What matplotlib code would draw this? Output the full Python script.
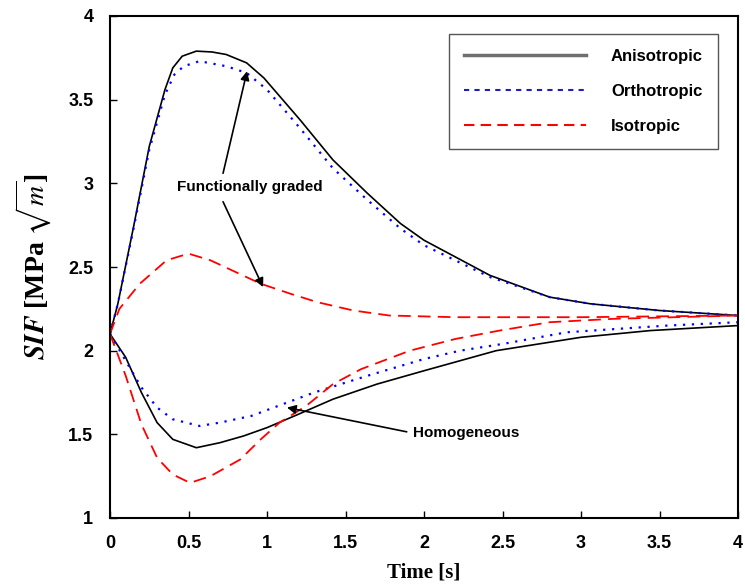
import numpy as np
import matplotlib
matplotlib.use("Agg")
from matplotlib import pyplot as plt
from matplotlib.lines import Line2D

# --- data ---
t_ani_fg = [0, 0.05, 0.15, 0.25, 0.35, 0.4, 0.46, 0.55, 0.65, 0.74, 0.87, 0.98, 1.21, 1.42, 1.64, 1.85, 2.0, 2.42, 2.8, 3.06, 3.5, 4.0]
k_ani_fg = [2.1, 2.28, 2.74, 3.22, 3.56, 3.69, 3.76, 3.79, 3.785, 3.77, 3.72, 3.63, 3.38, 3.14, 2.94, 2.76, 2.66, 2.45, 2.32, 2.28, 2.24, 2.21]

t_ort_fg = [0, 0.05, 0.15, 0.25, 0.35, 0.41, 0.47, 0.57, 0.74, 0.87, 1.0, 1.21, 1.42, 1.64, 1.85, 2.0, 2.42, 2.8, 3.06, 3.5, 4.0]
k_ort_fg = [2.1, 2.28, 2.73, 3.2, 3.53, 3.65, 3.70, 3.73, 3.70, 3.66, 3.56, 3.33, 3.09, 2.90, 2.73, 2.63, 2.44, 2.32, 2.28, 2.24, 2.21]

t_iso_fg = [0, 0.06, 0.19, 0.36, 0.5, 0.64, 0.8, 0.96, 1.15, 1.32, 1.55, 1.78, 2.2, 3.0, 4.0]
k_iso_fg = [2.1, 2.25, 2.40, 2.54, 2.58, 2.54, 2.47, 2.40, 2.34, 2.29, 2.24, 2.21, 2.2, 2.2, 2.21]

t_ani_h = [0, 0.1, 0.2, 0.3, 0.4, 0.55, 0.7, 0.85, 1.0, 1.2, 1.42, 1.7, 2.0, 2.46, 3.0, 3.44, 4.0]
k_ani_h = [2.1, 1.96, 1.75, 1.57, 1.47, 1.42, 1.45, 1.49, 1.54, 1.62, 1.71, 1.80, 1.88, 2.0, 2.08, 2.12, 2.15]

t_ort_h = [0, 0.1, 0.2, 0.3, 0.4, 0.57, 0.7, 0.9, 1.1, 1.3, 1.64, 2.0, 2.23, 2.5, 2.91, 3.55, 4.0]
k_ort_h = [2.1, 1.94, 1.78, 1.66, 1.59, 1.55, 1.57, 1.61, 1.68, 1.75, 1.85, 1.95, 2.0, 2.04, 2.11, 2.15, 2.17]

t_iso_h = [0, 0.1, 0.2, 0.3, 0.4, 0.51, 0.64, 0.83, 0.96, 1.08, 1.25, 1.42, 1.6, 1.91, 2.2, 2.48, 2.8, 3.2, 4.0]
k_iso_h = [2.1, 1.85, 1.56, 1.36, 1.26, 1.21, 1.25, 1.35, 1.47, 1.57, 1.67, 1.80, 1.89, 2.0, 2.07, 2.12, 2.17, 2.19, 2.21]

xticks = [0, 0.5, 1, 1.5, 2, 2.5, 3, 3.5, 4]
xticklabels = ["0", "0.5", "1", "1.5", "2", "2.5", "3", "3.5", "4"]
yticks = [1, 1.5, 2, 2.5, 3, 3.5, 4]
yticklabels = ["1", "1.5", "2", "2.5", "3", "3.5", "4"]
legend_labels = ["Anisotropic", "Orthotropic", "Isotropic"]

plt.rcParams["mathtext.fontset"] = "stix"

fig = plt.figure(figsize=[7.45, 5.85], dpi=100)
ax = fig.add_axes([110 / 745, 1 - 518 / 585, 628 / 745, 502 / 585])

ani_style = dict(color="black", lw=1.2, ls="-")
ort_style = dict(color="blue", lw=1.6, ls=(0, (1, 3)))
iso_style = dict(color="red", lw=1.3, ls=(0, (7, 4)))

ax.plot(t_ani_fg, k_ani_fg, **ani_style)
ax.plot(t_ort_fg, k_ort_fg, **ort_style)
ax.plot(t_iso_fg, k_iso_fg, **iso_style)
ax.plot(t_ani_h, k_ani_h, **ani_style)
ax.plot(t_ort_h, k_ort_h, **ort_style)
ax.plot(t_iso_h, k_iso_h, **iso_style)

ax.set_xlim(0, 4)
ax.set_ylim(1, 4)
ax.set_xticks(xticks)
ax.set_xticklabels(xticklabels)
ax.set_yticks(yticks)
ax.set_yticklabels(yticklabels)
for lab in ax.get_xticklabels() + ax.get_yticklabels():
    lab.set_fontfamily("Liberation Sans")
    lab.set_fontweight("bold")
    lab.set_fontsize(13)
ax.tick_params(direction="in", length=5, width=1, pad=12)
for s in ax.spines.values():
    s.set_linewidth(1.5)

ax.set_xlabel("Time [s]", fontfamily="Liberation Serif", fontweight="bold", fontsize=15, labelpad=8)
ax.set_ylabel(r"$\mathbfit{SIF}$ [MPa $\sqrt{m}$]", fontfamily="Liberation Serif", fontweight="bold",
              fontsize=20, labelpad=10)

# legend with proxy handles
handles = [
    Line2D([], [], color="#6f6f6f", lw=2.5, ls="-"),
    Line2D([], [], color="#2020b0", lw=1.5, ls=(0, (2.5, 2.5))),
    Line2D([], [], color="red", lw=1.5, ls=(0, (5, 3))),
]
leg = ax.legend(handles, legend_labels, loc="upper right", bbox_to_anchor=(0.968, 0.964),
                borderaxespad=0, handlelength=7.3, handletextpad=1.5, labelspacing=1.2,
                borderpad=0.9, fancybox=False, edgecolor="#555555", framealpha=1,
                prop=dict(family="Liberation Sans", weight="bold", size=12))
leg.get_frame().set_linewidth(1.0)

arrow = dict(arrowstyle="-|>", color="black", lw=1.2, mutation_scale=13, shrinkA=0, shrinkB=0)
ax.text(0.89, 2.98, "Functionally graded", ha="center", va="center",
        fontfamily="Liberation Sans", fontweight="bold", fontsize=11)
ax.annotate("", xy=(0.873, 3.67), xytext=(0.72, 3.06), arrowprops=arrow)
ax.annotate("", xy=(0.975, 2.38), xytext=(0.72, 2.89), arrowprops=arrow)

ax.text(1.93, 1.51, "Homogeneous", ha="left", va="center",
        fontfamily="Liberation Sans", fontweight="bold", fontsize=11)
ax.annotate("", xy=(1.127, 1.66), xytext=(1.89, 1.515), arrowprops=arrow)

fig.savefig("out.png", dpi=100)
